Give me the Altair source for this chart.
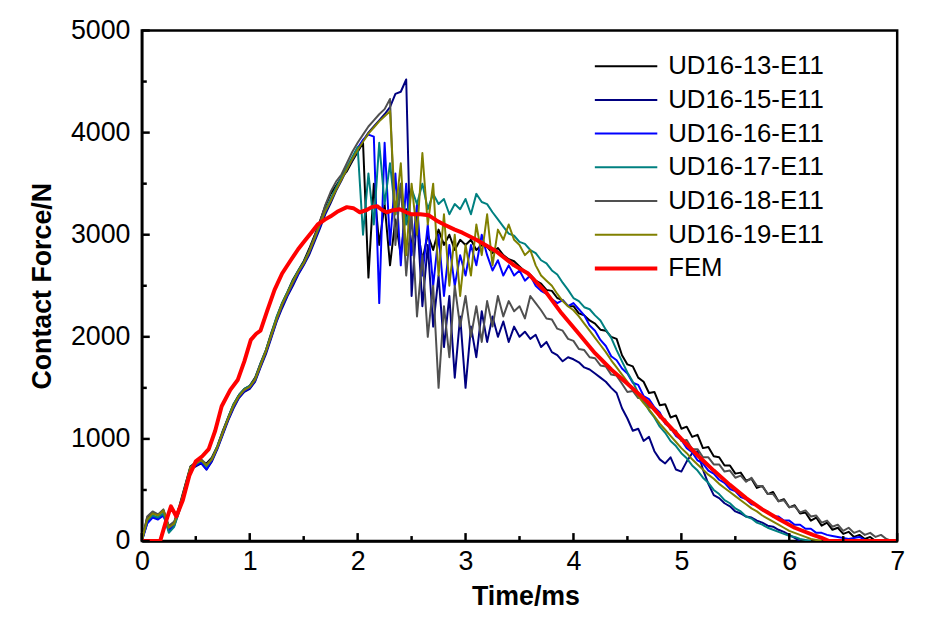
import altair as alt
import pandas as pd

TIME = [0.00, 0.05, 0.10, 0.15, 0.20, 0.25, 0.30, 0.35, 0.40, 0.45,
        0.50, 0.55, 0.60, 0.65, 0.70, 0.75, 0.80, 0.85, 0.90, 0.95,
        1.00, 1.05, 1.10, 1.15, 1.20, 1.25, 1.30, 1.35, 1.40, 1.45,
        1.50, 1.55, 1.60, 1.65, 1.70, 1.75, 1.80, 1.85, 1.90, 1.95,
        2.00, 2.05, 2.10, 2.15, 2.20, 2.25, 2.30, 2.35, 2.40, 2.45,
        2.50, 2.55, 2.60, 2.65, 2.70, 2.75, 2.80, 2.85, 2.90, 2.95,
        3.00, 3.05, 3.10, 3.15, 3.20, 3.25, 3.30, 3.35, 3.40, 3.45,
        3.50, 3.55, 3.60, 3.65, 3.70, 3.75, 3.80, 3.85, 3.90, 3.95,
        4.00, 4.05, 4.10, 4.15, 4.20, 4.25, 4.30, 4.35, 4.40, 4.45,
        4.50, 4.55, 4.60, 4.65, 4.70, 4.75, 4.80, 4.85, 4.90, 4.95,
        5.00, 5.05, 5.10, 5.15, 5.20, 5.25, 5.30, 5.35, 5.40, 5.45,
        5.50, 5.55, 5.60, 5.65, 5.70, 5.75, 5.80, 5.85, 5.90, 5.95,
        6.00, 6.05, 6.10, 6.15, 6.20, 6.25, 6.30, 6.35, 6.40, 6.45,
        6.50, 6.55, 6.60, 6.65, 6.70, 6.75, 6.80, 6.85, 6.90, 6.95,
        7.00]

UD13 = [0, 230, 280, 250, 300, 140, 180, 350, 540, 730,
        770, 780, 760, 820, 930, 1080, 1210, 1340, 1430, 1490,
        1520, 1600, 1740, 1870, 2040, 2190, 2330, 2440, 2560, 2650,
        2740, 2860, 2990, 3130, 3280, 3400, 3480, 3560, 3620, 3720,
        3810, 3900, 2580, 3500, 2900, 3300, 2700, 3150, 2800, 3250,
        2900, 3100, 2750, 3000, 2850, 3050, 2900, 3000, 2850, 2950,
        2900, 2950, 2850, 2900, 2880, 2820, 2870, 2800, 2760, 2740,
        2690, 2640, 2610, 2550, 2520, 2460, 2450, 2380, 2360, 2300,
        2300, 2230, 2210, 2160, 2130, 2070, 2060, 2000, 1980, 1820,
        1730, 1710, 1600, 1560, 1450, 1460, 1330, 1340, 1210, 1230,
        1100, 1120, 1020, 1040, 910, 920, 830, 820, 740, 740,
        660, 670, 590, 610, 520, 540, 460, 480, 390, 410,
        330, 350, 270, 280, 200, 230, 150, 180, 110, 130,
        70, 90, 40, 60, 20, 40, 0]

UD15 = [0, 180, 240, 220, 260, 110, 150, 310, 500, 700,
        730, 760, 700, 780, 900, 1040, 1180, 1300, 1400, 1460,
        1490, 1560, 1700, 1830, 1990, 2150, 2280, 2400, 2500, 2610,
        2700, 2800, 2930, 3060, 3200, 3310, 3430, 3530, 3640, 3730,
        3830, 3920, 4000, 4060, 4120, 4180, 4250, 4380, 4400, 4520,
        2400, 3200, 2300, 2900, 2100, 2600, 1900, 2400, 1600, 2200,
        1500, 2100, 1800, 2250, 1950, 2200, 2000, 2150, 1950, 2100,
        2000, 2050, 1980, 2020, 1900, 1950, 1850, 1820, 1760, 1800,
        1780, 1750, 1700, 1680, 1640, 1600, 1560, 1500, 1450, 1300,
        1200, 1080, 1100, 980, 1020, 880, 800, 760, 820, 700,
        680, 780, 860, 880, 700, 560, 450, 420, 370, 340,
        290, 270, 240, 230, 200, 180, 150, 140, 110, 90,
        60, 30, 0]

UD16 = [0, 170, 230, 210, 250, 100, 160, 320, 510, 710,
        740, 770, 700, 790, 910, 1050, 1190, 1310, 1410, 1470,
        1500, 1570, 1710, 1850, 2000, 2160, 2300, 2410, 2520, 2620,
        2710, 2820, 2950, 3080, 3220, 3340, 3450, 3550, 3650, 3750,
        3850, 3930, 3980, 3960, 2330, 3900, 2900, 3600, 2700, 3500,
        2800, 3300, 2600, 3100, 2500, 3000, 2400, 2900, 2500, 2800,
        2600, 2900, 2700, 3000, 2800, 2650, 2750, 2600, 2700, 2600,
        2650, 2550, 2600, 2500, 2450, 2420, 2370, 2330, 2360, 2300,
        2330, 2270, 2210, 2110, 2060, 1970, 1910, 1810, 1770, 1690,
        1640, 1550, 1530, 1420, 1390, 1310, 1260, 1150, 1110, 1030,
        990, 910, 870, 790, 760, 690, 660, 600, 570, 510,
        490, 430, 410, 360, 350, 300, 290, 240, 240, 200,
        200, 160, 160, 120, 120, 80, 80, 60, 50, 40,
        30, 20, 30, 40, 10, 0]

UD17 = [0, 200, 250, 230, 270, 80, 140, 300, 500, 720,
        750, 790, 730, 810, 930, 1070, 1210, 1340, 1430, 1490,
        1520, 1590, 1740, 1870, 2030, 2200, 2330, 2440, 2550, 2650,
        2730, 2840, 2970, 3100, 3240, 3350, 3460, 3560, 3660, 3760,
        3860, 3000, 3600, 3100, 3900, 3300, 3700, 3200, 3500, 3100,
        3450, 3300, 3500, 3250, 3400, 3300, 3350, 3200, 3300, 3250,
        3350, 3200, 3400, 3320, 3300, 3220, 3150, 3080, 3010, 2990,
        2930, 2910, 2850, 2820, 2750, 2720, 2650, 2610, 2530, 2460,
        2380, 2350, 2290, 2270, 2210, 2160, 2070, 1990, 1870, 1760,
        1650, 1560, 1450, 1370, 1280, 1210, 1120, 1060, 980, 930,
        860, 810, 740, 690, 620, 570, 500, 460, 400, 370,
        320, 290, 240, 220, 180, 160, 130, 110, 90, 70,
        50, 40, 20, 10, 0]

UD18 = [0, 240, 290, 260, 310, 150, 190, 340, 530, 720,
        770, 800, 750, 810, 920, 1070, 1200, 1320, 1420, 1480,
        1510, 1590, 1730, 1860, 2010, 2170, 2310, 2420, 2530, 2640,
        2720, 2840, 2980, 3120, 3290, 3420, 3520, 3590, 3700, 3810,
        3900, 3980, 4060, 4120, 4180, 4230, 4330, 2900, 3500, 2600,
        3200, 2200, 2800, 2000, 2500, 1500, 2300, 1800, 2500, 2100,
        2400, 2000, 2300, 1950, 2350, 2100, 2400, 2200, 2350, 2250,
        2300, 2180, 2400, 2330, 2260, 2180, 2170, 2080, 2060, 1980,
        1960, 1880, 1870, 1800, 1790, 1720, 1710, 1630, 1620, 1540,
        1460, 1470, 1400, 1400, 1310, 1300, 1210, 1190, 1090, 1080,
        980, 990, 900, 900, 820, 820, 750, 750, 680, 690,
        620, 640, 580, 620, 540, 540, 460, 460, 390, 400,
        330, 340, 280, 300, 240, 250, 180, 200, 140, 160,
        100, 130, 80, 100, 60, 80, 40, 60, 20, 0]

UD19 = [0, 210, 270, 250, 300, 130, 170, 330, 520, 720,
        760, 790, 740, 800, 920, 1060, 1200, 1330, 1420, 1480,
        1510, 1580, 1720, 1860, 2020, 2180, 2320, 2430, 2540, 2640,
        2720, 2830, 2960, 3100, 3230, 3330, 3440, 3540, 3640, 3740,
        3830, 3910, 3990, 4050, 4110, 4160, 4210, 3200, 3700, 2800,
        3500, 3000, 3800, 3100, 3500, 2600, 3200, 2500, 3000, 2400,
        2900, 2600, 3100, 2800, 3200, 2700, 3050, 2950, 3100, 2950,
        2900, 2800, 2850, 2700, 2600, 2550, 2500, 2420, 2350, 2300,
        2260, 2200, 2130, 2060, 1990, 1920, 1850, 1770, 1700, 1630,
        1560, 1490, 1420, 1350, 1290, 1220, 1150, 1090, 1030, 970,
        910, 860, 800, 750, 700, 650, 610, 560, 520, 480,
        440, 400, 360, 320, 290, 250, 220, 190, 160, 130,
        100, 80, 60, 40, 20, 10, 0]

FEM_T = [0.00, 0.17, 0.22, 0.27, 0.32, 0.38, 0.44, 0.50, 0.56, 0.62,
         0.68, 0.74, 0.82, 0.89, 0.95, 1.01, 1.06, 1.10, 1.16, 1.23,
         1.30, 1.38, 1.45, 1.51, 1.57, 1.63, 1.70, 1.75, 1.82, 1.90,
         1.96, 2.02, 2.08, 2.13, 2.18, 2.23, 2.27, 2.33, 2.39, 2.45,
         2.50, 2.58, 2.66, 2.73, 2.80, 2.90, 2.97, 3.10, 3.28, 3.45,
         3.58, 3.75, 3.89, 4.05, 4.20, 4.35, 4.50, 4.69, 4.85, 5.00,
         5.15, 5.30, 5.45, 5.60, 5.75, 5.91, 6.05, 6.22, 6.30, 6.37,
         7.00]
FEM_F = [0, 0, 180, 340, 240, 400, 640, 780, 830, 900,
         1080, 1320, 1480, 1580, 1760, 1970, 2030, 2060, 2250, 2460,
         2620, 2750, 2860, 2940, 3020, 3100, 3150, 3180, 3230, 3270,
         3260, 3220, 3240, 3270, 3280, 3240, 3220, 3240, 3250, 3220,
         3200, 3200, 3190, 3140, 3100, 3050, 3020, 2950, 2840, 2700,
         2620, 2430, 2230, 2030, 1840, 1680, 1540, 1360, 1170, 1000,
         840, 690, 550, 420, 310, 210, 130, 60, 30, 0,
         0]

NAMES = ["UD16-13-E11", "UD16-15-E11", "UD16-16-E11", "UD16-17-E11",
         "UD16-18-E11", "UD16-19-E11", "FEM"]
COLORS = ["#000000", "#000080", "#0000FF", "#008080", "#505050", "#808000", "#FF0000"]
WIDTHS = [2, 2, 2, 2, 2, 2, 4]

X_MAJOR = [0, 1, 2, 3, 4, 5, 6, 7]
X_MINOR = [0.5, 1.5, 2.5, 3.5, 4.5, 5.5, 6.5]
Y_MAJOR = [0, 1000, 2000, 3000, 4000, 5000]
Y_MINOR = [500, 1500, 2500, 3500, 4500]

exp_rows = []
for name, vals in zip(NAMES[:6], [UD13, UD15, UD16, UD17, UD18, UD19]):
    for t, f in zip(TIME, vals):
        exp_rows.append({"t": t, "F": f, "series": name})
df_exp = pd.DataFrame(exp_rows)
df_fem = pd.DataFrame({"t": FEM_T, "F": FEM_F, "series": "FEM"})

W, H = 762, 515
FONT = "Liberation Sans"

xs = alt.Scale(domain=[0, 7], nice=False, zero=False)
ys = alt.Scale(domain=[0, 5000], nice=False)
cs = alt.Scale(domain=NAMES, range=COLORS)
ws = alt.Scale(type="ordinal", domain=NAMES, range=WIDTHS)

leg = alt.Legend(title=None, orient="none", legendX=497, legendY=23,
                 symbolType="M-5.3,0H1", symbolSize=400, labelFontSize=26,
                 labelFont=FONT, labelColor="black", labelOffset=8,
                 rowPadding=8, padding=0)

xaxis = alt.Axis(values=X_MAJOR, format="d", ticks=False, grid=False,
                 labelFlush=False, labelOverlap=False, labelPadding=8,
                 title="Time/ms", titlePadding=9, titleX=387)
yaxis = alt.Axis(values=Y_MAJOR, format="d", ticks=False, grid=False,
                 labelPadding=12, title="Contact Force/N", titlePadding=14)

X = alt.X("t:Q", scale=xs, axis=xaxis)
Y = alt.Y("F:Q", scale=ys, axis=yaxis)

enc = dict(
    x=X, y=Y,
    color=alt.Color("series:N", scale=cs, legend=leg),
    strokeWidth=alt.StrokeWidth("series:N", scale=ws, legend=leg),
)

exp = alt.Chart(df_exp).mark_line(clip=True, strokeJoin="round").encode(**enc)
fem = alt.Chart(df_fem).mark_line(clip=True, strokeJoin="round").encode(**enc)

def xticks(vals, length):
    return alt.Chart(pd.DataFrame({"t": vals})).mark_rule(color="black", strokeWidth=2.5).encode(
        x=X, y=alt.value(H), y2=alt.value(H - length))

def yticks(vals, length):
    return alt.Chart(pd.DataFrame({"F": vals})).mark_rule(color="black", strokeWidth=2.5).encode(
        y=Y, x=alt.value(0), x2=alt.value(length))

chart = alt.layer(
    exp, fem,
    xticks(X_MAJOR, 8), xticks(X_MINOR, 5),
    yticks(Y_MAJOR, 8), yticks(Y_MINOR, 5),
).properties(
    width=W, height=H, autosize="none",
    padding={"left": 135, "top": 20, "right": 21, "bottom": 81},
).configure_view(
    stroke="black", strokeWidth=2.5
).configure_axis(
    domainColor="black", domainWidth=2.5,
    labelFont=FONT, labelFontSize=27, labelColor="black",
    titleFont=FONT, titleFontSize=27, titleFontWeight="bold", titleColor="black",
).configure_legend(
    labelFont=FONT
)

chart.save("out.html", embed_options={"renderer": "svg", "actions": False})
